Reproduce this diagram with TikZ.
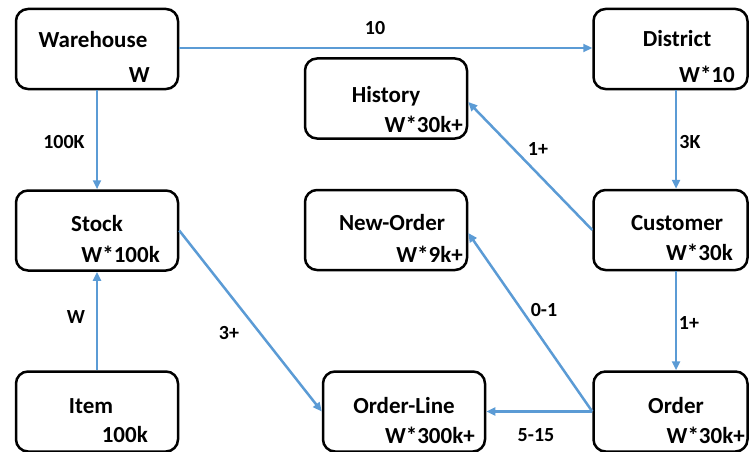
\documentclass[tikz,border=0pt]{standalone}
\usepackage{fontspec}
\setmainfont{Carlito}
\usetikzlibrary{arrows.meta}
\definecolor{linkblue}{HTML}{5B9BD5}
\tikzset{
  table/.style={draw=black, line width=2.5pt, rounded corners=12pt, fill=white,
    minimum width=162pt, minimum height=80pt, inner sep=0pt},
  tname/.style={font=\bfseries\fontsize{23}{26}\selectfont, anchor=base, inner sep=0pt},
  tsize/.style={font=\bfseries\fontsize{23}{26}\selectfont, anchor=base east, inner sep=0pt},
  link/.style={draw=linkblue, line width=2.5pt, -{Triangle[length=9pt,width=8pt]}},
  card/.style={font=\bfseries\fontsize{20}{22}\selectfont, inner sep=0pt}
}
\begin{document}
\begin{tikzpicture}[x=1pt,y=-1pt]
\useasboundingbox (0,0) rectangle (749,452);

% tables
\node[table] (wh) at (97,49) {};
\node[table, minimum width=154pt] (di) at (670.5,49) {};
\node[table] (hi) at (386,98.5) {};
\node[table] (st) at (97,230.5) {};
\node[table] (no) at (386,230) {};
\node[table, minimum width=154pt] (cu) at (670.5,230) {};
\node[table] (it) at (97,411.5) {};
\node[table] (ol) at (404,411.5) {};
\node[table, minimum width=154pt] (or) at (670.5,411.5) {};

% table names and row counts
\node[tname] (wh-t) at (93,48) {Warehouse};
\node[tsize] (wh-n) at (150,82) {W};
\node[tname] (di-t) at (677,47) {District};
\node[tsize] (di-n) at (735,82) {W*10};
\node[tname] (hi-t) at (386,102) {History};
\node[tsize] (hi-n) at (463,132) {W*30k+};
\node[tname] (st-t) at (97,231) {Stock};
\node[tsize] (st-n) at (160,262) {W*100k};
\node[tname] (no-t) at (392,230) {New-Order};
\node[tsize] (no-n) at (463,262) {W*9k+};
\node[tname] (cu-t) at (677,230) {Customer};
\node[tsize] (cu-n) at (733,260) {W*30k};
\node[tname] (it-t) at (91,413) {Item};
\node[tsize] (it-n) at (148,442) {100k};
\node[tname] (ol-t) at (404,413) {Order-Line};
\node[tsize] (ol-n) at (475,443) {W*300k+};
\node[tname] (or-t) at (676,413) {Order};
\node[tsize] (or-n) at (745,443) {W*30k+};

% relationships
\draw[link] ([yshift=1pt]wh.east) -- ([yshift=1pt]di.west);
\draw[link] (wh.south) -- (st.north);
\draw[link] ([xshift=5.5pt]di.south) -- ([xshift=5.5pt]cu.north);
\draw[link] (cu.west) -- ([yshift=-3.5pt]hi.east);
\draw[link] ([xshift=5.5pt]cu.south) -- ([xshift=5.5pt]or.north);
\draw[link] (it.north) -- (st.south);
\draw[link] (st.east) -- (ol.west);
\draw[link] (or.west) -- ([yshift=-3pt]no.east);
\draw[link] (or.west) -- (ol.east);

% cardinalities
\node[card] (c1) at (375,28) {10};
\node[card] (c2) at (64,142) {100K};
\node[card] (c3) at (690,142) {3K};
\node[card] (c4) at (538,149) {1+};
\node[card] (c5) at (689,323) {1+};
\node[card] (c6) at (76,317) {W};
\node[card] (c7) at (229,333) {3+};
\node[card] (c8) at (544,310) {0-1};
\node[card] (c9) at (536,435) {5-15};
\end{tikzpicture}
\end{document}
